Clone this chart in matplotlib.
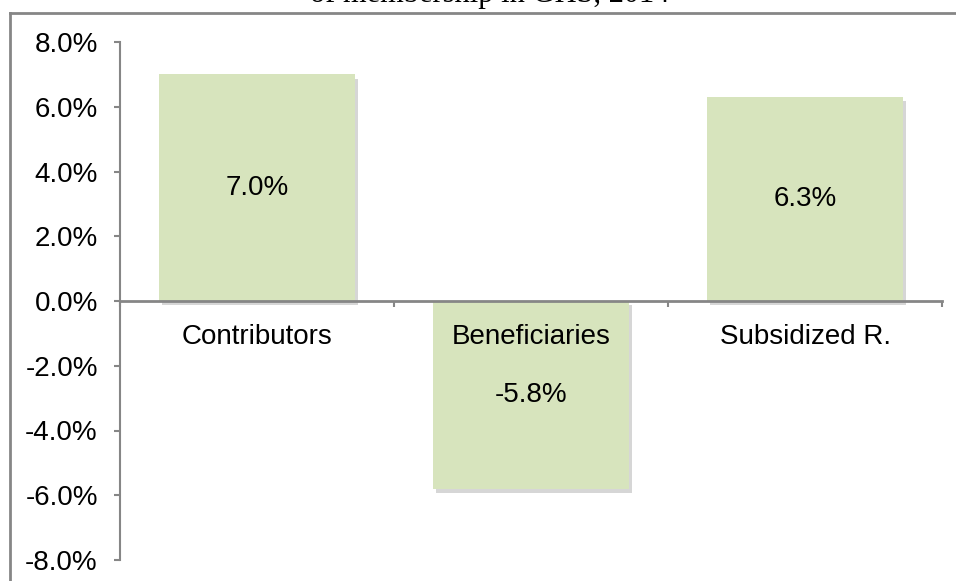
import matplotlib
matplotlib.use("Agg")
import matplotlib.pyplot as plt
import matplotlib.patheffects as pe
from matplotlib.lines import Line2D
from matplotlib.ticker import FuncFormatter, FixedLocator

categories = ["Contributors", "Beneficiaries", "Subsidized R."]
values = [7.0, -5.8, 6.3]
value_labels = ["7.0%", "-5.8%", "6.3%"]
title_text = "of membership in GHS, 2014"

BAR = "#D7E4BD"
GRAY = "#868686"
FONT = "Liberation Sans"
FS = 20

W, H = 956, 581
fig = plt.figure(figsize=(W / 100, H / 100), dpi=100)
ax = fig.add_axes([120 / W, (H - 560) / H, (942 - 120) / W, (560 - 42) / H])

x = list(range(len(categories)))
bars = ax.bar(x, values, width=0.715, color=BAR, edgecolor="none", zorder=2)
for b in bars:
    b.set_path_effects([pe.SimplePatchShadow(offset=(2, -3), shadow_rgbFace="#8a8a8a", alpha=0.35),
                        pe.Normal()])

for xi, v, lab in zip(x, values, value_labels):
    ax.text(xi, v / 2, lab, ha="center", va="center", fontsize=FS, family=FONT, zorder=3)

ax.set_xlim(-0.5, len(categories) - 0.5)
ax.set_ylim(-8, 8)
ax.set_yticks([-8, -6, -4, -2, 0, 2, 4, 6, 8])
ax.yaxis.set_major_formatter(FuncFormatter(lambda v, p: f"{v:.1f}%"))

# category boundaries as tick marks on the zero line
ax.xaxis.set_major_locator(FixedLocator([-0.5, 0.5, 1.5, 2.5]))
ax.xaxis.set_major_formatter(FuncFormatter(lambda v, p: ""))
for xi, name in zip(x, categories):
    ax.text(xi, -0.72, name, ha="center", va="top", fontsize=FS, family=FONT, zorder=3)

for s in ["top", "right"]:
    ax.spines[s].set_visible(False)
ax.spines["left"].set_color(GRAY)
ax.spines["left"].set_linewidth(1.5)
ax.spines["bottom"].set_position(("data", 0))
ax.spines["bottom"].set_color(GRAY)
ax.spines["bottom"].set_linewidth(2)

ax.tick_params(axis="y", direction="out", length=4.5, width=1.5, color=GRAY,
               labelsize=FS, pad=11.5)
ax.tick_params(axis="x", direction="out", length=4.5, width=1.5, color=GRAY)
for lab in ax.get_yticklabels():
    lab.set_family(FONT)

# outer chart border (partly cropped)
fig.add_artist(Line2D([10 / W, 10 / W], [0, (H - 13) / H], color=GRAY, lw=2, transform=fig.transFigure))
fig.add_artist(Line2D([10 / W, 1], [(H - 13) / H, (H - 13) / H], color=GRAY, lw=2, transform=fig.transFigure))

fig.text(490 / W, (H - 2) / H, title_text, ha="center", va="baseline",
         fontsize=22, family="Liberation Serif")

fig.savefig("out.png", dpi=100)
